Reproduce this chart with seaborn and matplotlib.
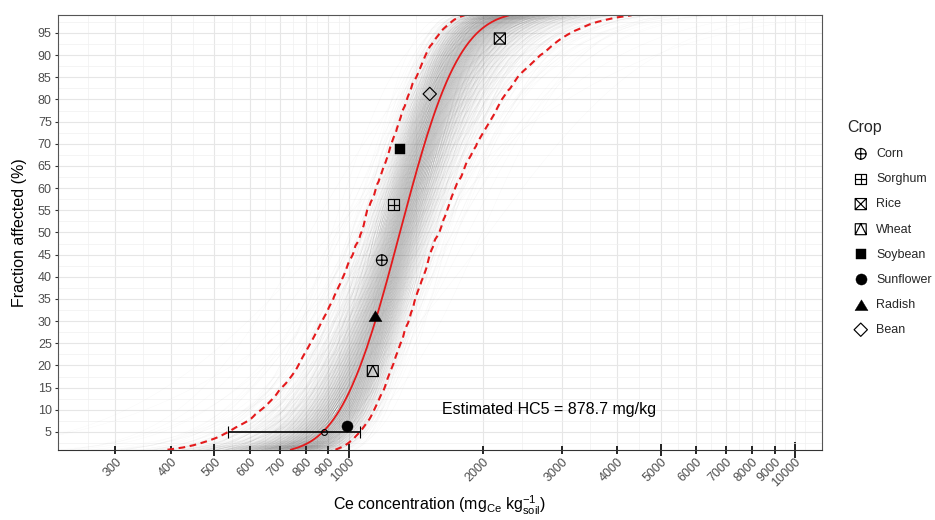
import numpy as np
import pandas as pd
import matplotlib
matplotlib.use("Agg")
import matplotlib.pyplot as plt
from matplotlib.path import Path
from matplotlib.ticker import NullFormatter
import seaborn as sns
from statistics import NormalDist

# ---------------- data ----------------
crops = ["Corn", "Sorghum", "Rice", "Wheat", "Soybean", "Sunflower", "Radish", "Bean"]
conc = [1186, 1261, 2181, 1132, 1301, 990, 1144, 1519]          # mg Ce / kg soil
frac = [43.75, 56.25, 93.75, 18.75, 68.75, 6.25, 31.25, 81.25]   # fraction affected (%)
hc5_value = 878.7
x_tick_values = [300, 400, 500, 600, 700, 800, 900, 1000, 2000, 3000, 4000,
                 5000, 6000, 7000, 8000, 9000, 10000]
y_tick_values = list(range(5, 100, 5))
n_boot = 1000   # number of bootstrap curves

# ---------------- theme ----------------
sns.set_theme(style="white")
plt.rcParams["font.family"] = ["Liberation Sans", "DejaVu Sans"]
plt.rcParams["mathtext.fontset"] = "custom"
plt.rcParams["mathtext.rm"] = "Liberation Sans"
plt.rcParams["mathtext.it"] = "Liberation Sans:italic"
plt.rcParams["mathtext.bf"] = "Liberation Sans:bold"

RED = "#E41A1C"
nd = NormalDist()

# ---------------- log-normal SSD fit ----------------
logc = np.log10(conc)
n = len(conc)
dfree = n - 1
mu, sd = logc.mean(), logc.std(ddof=1)

p_fine = np.linspace(0.01, 0.99, 197)
z_fine = np.array([nd.inv_cdf(p) for p in p_fine])

# deterministic (quasi-uniform) parametric bootstrap of the fit
k = np.arange(n_boot)
u_sig = (k + 0.5) / n_boot
u_mu = np.mod(0.5 + k * 0.6180339887498949, 1.0)
z_sig = np.array([nd.inv_cdf(u) for u in u_sig])
z_mu = np.array([nd.inv_cdf(u) for u in u_mu])
chi2 = dfree * (1 - 2 / (9 * dfree) + z_sig * np.sqrt(2 / (9 * dfree))) ** 3
sig_b = sd * np.sqrt(dfree / chi2)
mu_b = mu + sig_b * z_mu / np.sqrt(n)

p_boot = np.linspace(0.01, 0.99, 99)
z_boot = np.array([nd.inv_cdf(p) for p in p_boot])
boot_log = mu_b[:, None] + sig_b[:, None] * z_boot[None, :]
boot_df = pd.DataFrame({
    "id": np.repeat(k, len(p_boot)),
    "conc": 10 ** boot_log.ravel(),
    "pct": np.tile(p_boot * 100, n_boot),
})

band_log = mu_b[:, None] + sig_b[:, None] * z_fine[None, :]
lo = np.quantile(band_log, 0.025, axis=0)
hi = np.quantile(band_log, 0.975, axis=0)
fit_df = pd.DataFrame({"conc": 10 ** (mu + sd * z_fine), "pct": p_fine * 100})
lo_df = pd.DataFrame({"conc": 10 ** lo, "pct": p_fine * 100})
hi_df = pd.DataFrame({"conc": 10 ** hi, "pct": p_fine * 100})

hc5_boot = 10 ** (mu_b + sig_b * nd.inv_cdf(0.05))
ci_lo, ci_hi = np.quantile(hc5_boot, [0.025, 0.975])

# ---------------- figure ----------------
fig = plt.figure(figsize=(9.35, 5.2), dpi=100)
ax = fig.add_axes([58 / 935, 1 - 449.5 / 520, 764 / 935, 434.5 / 520])
ax.set_xscale("log")

sns.lineplot(data=boot_df, x="conc", y="pct", units="id", estimator=None,
             sort=False, color="#555555", alpha=0.038, linewidth=0.3,
             legend=False, ax=ax)
sns.lineplot(data=fit_df, x="conc", y="pct", sort=False, color=RED,
             linewidth=1.3, ax=ax)
for bdf in (lo_df, hi_df):
    sns.lineplot(data=bdf, x="conc", y="pct", sort=False, color=RED,
                 linewidth=1.5, linestyle=(0, (3.2, 2.2)), ax=ax)

# ---------------- markers ----------------
M, L, C = Path.MOVETO, Path.LINETO, Path.CLOSEPOLY
square = Path([(-1, -1), (1, -1), (1, 1), (-1, 1), (-1, -1)], [M, L, L, L, C])
plus = Path([(-1, 0), (1, 0), (0, -1), (0, 1)], [M, L, M, L])
cross = Path([(-1, -1), (1, 1), (-1, 1), (1, -1)], [M, L, M, L])
tri_in = Path([(-1, -1), (0, 1), (1, -1)], [M, L, L])
circ_plus = Path.make_compound_path(Path.unit_circle(), plus)
sq_plus = Path.make_compound_path(square, plus)
sq_cross = Path.make_compound_path(square, cross)
sq_tri = Path.make_compound_path(square, tri_in)
tri_fill = Path([(0, 1), (-1.15, -0.9), (1.15, -0.9), (0, 1)], [M, L, L, C])
diamond = Path([(0, 1), (1, 0), (0, -1), (-1, 0), (0, 1)], [M, L, L, L, C])

marker_spec = {
    "Corn": (circ_plus, False, 60),
    "Sorghum": (sq_plus, False, 62),
    "Rice": (sq_cross, False, 64),
    "Wheat": (sq_tri, False, 62),
    "Soybean": ("s", True, 62),
    "Sunflower": ("o", True, 64),
    "Radish": (tri_fill, True, 88),
    "Bean": (diamond, False, 92),
}
for crop, c, f in zip(crops, conc, frac):
    m, filled, s = marker_spec[crop]
    sns.scatterplot(x=[c], y=[f], marker=m, s=s,
                    facecolor="black" if filled else "none",
                    edgecolor="black", linewidth=0.3 if filled else 0.85,
                    label=crop, zorder=5, ax=ax)

# HC5 with its confidence interval
ax.errorbar([hc5_value], [5], xerr=[[hc5_value - ci_lo], [ci_hi - hc5_value]],
            fmt="o", ms=4.2, mfc="none", mec="black", mew=0.8, ecolor="black",
            elinewidth=1.2, capsize=4.6, capthick=1.2, zorder=6)
ax.text(2810, 10.0, f"Estimated HC5 = {hc5_value} mg/kg", ha="center",
        va="center", fontsize=11.5, color="black")

# ---------------- axes ----------------
ax.set_xlim(223, 11500)
ax.set_ylim(1.05, 99.06)

lb = np.log10(x_tick_values)
ext = np.concatenate([[lb[0] - (lb[1] - lb[0])], lb, [lb[-1] + (lb[-1] - lb[-2])]])
x_minor = 10 ** ((ext[:-1] + ext[1:]) / 2)

ax.set_xticks(x_tick_values)
ax.set_xticks(x_minor, minor=True)
ax.xaxis.set_minor_formatter(NullFormatter())
ax.set_xticklabels([str(v) for v in x_tick_values], rotation=45, ha="right",
                   va="top", rotation_mode="anchor")
ax.set_yticks(y_tick_values)
ax.set_yticks(np.arange(2.5, 100, 5), minor=True)
ax.yaxis.set_minor_formatter(NullFormatter())
ax.set_yticklabels([str(v) for v in y_tick_values])

ax.grid(True, which="major", color="#E6E6E6", linewidth=0.8)
ax.grid(True, which="minor", color="#F0F0F0", linewidth=0.5)
ax.set_axisbelow(True)

ax.tick_params(bottom=True, left=True, top=False, right=False)
ax.tick_params(axis="both", which="minor", length=0)
ax.tick_params(axis="x", which="major", direction="inout", length=8 * 0.72,
               width=1.2, color="black", pad=1.5, labelsize=9,
               labelcolor="#4D4D4D")
ax.tick_params(axis="y", which="major", direction="out", length=2.5,
               width=0.8, color="#333333", pad=2, labelsize=9,
               labelcolor="#4D4D4D")
for tick, v in zip(ax.xaxis.get_major_ticks(), x_tick_values):
    Lpx = 16 if v in (1000, 10000) else (12 if v in (500, 5000) else 8)
    tick.tick1line.set_markersize(Lpx * 0.72)

for sp in ax.spines.values():
    sp.set_visible(True)
    sp.set_color("#555555")
    sp.set_linewidth(0.8)
ax.spines["bottom"].set_color("#333333")

ax.set_xlabel(r"Ce concentration (mg$_{\mathrm{Ce}}$ kg$_{\mathrm{soil}}^{-1}$)",
              fontsize=11.5, color="black")
ax.set_ylabel("Fraction affected (%)", fontsize=11.5, color="black")
ax.xaxis.set_label_coords(0.5, (449.5 - 505) / 434.5)
ax.xaxis.label.set_va("center")
ax.yaxis.set_label_coords((20 - 58) / 764, 0.5)
ax.yaxis.label.set_va("center")

handles, labels = ax.get_legend_handles_labels()
ax.legend(handles, labels, title="Crop", loc="upper left",
          bbox_to_anchor=(847 / 935, 1 - 120 / 520), bbox_transform=fig.transFigure,
          frameon=False, fontsize=9, title_fontsize=11.5, labelspacing=1.05,
          handletextpad=0.15, handlelength=2.2, borderpad=0, borderaxespad=0,
          alignment="left", scatterpoints=1)

fig.savefig("out.png", dpi=100)
